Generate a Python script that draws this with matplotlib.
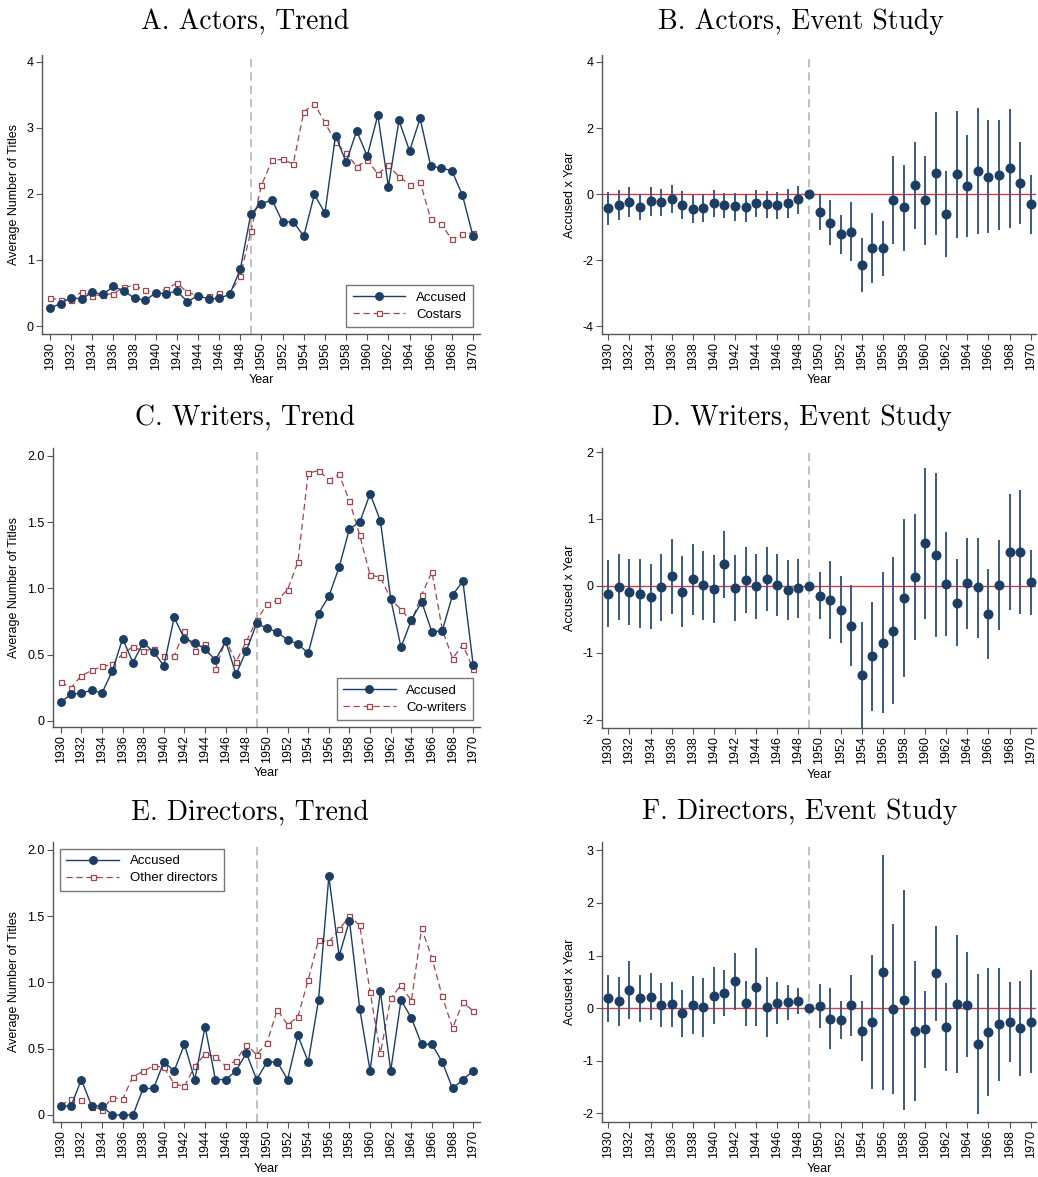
import matplotlib
matplotlib.use('Agg')
from matplotlib import pyplot as plt
import numpy as np

years = np.arange(1930, 1971)
xticks = np.arange(1930, 1971, 2)

# A. Actors, trend
actors_accused = [0.27, 0.34, 0.43, 0.41, 0.51, 0.48, 0.60, 0.53, 0.42, 0.39,
                  0.50, 0.49, 0.53, 0.37, 0.46, 0.41, 0.42, 0.48, 0.86, 1.70,
                  1.85, 1.91, 1.57, 1.58, 1.36, 1.99, 1.71, 2.88, 2.48, 2.95,
                  2.57, 3.19, 2.11, 3.11, 2.65, 3.14, 2.42, 2.39, 2.35, 1.98, 1.36]
actors_costars = [0.42, 0.40, 0.40, 0.52, 0.46, 0.47, 0.49, 0.59, 0.61, 0.54,
                  0.50, 0.56, 0.65, 0.51, 0.46, 0.45, 0.50, 0.49, 0.76, 1.44,
                  2.13, 2.51, 2.52, 2.45, 3.24, 3.36, 3.08, 2.78, 2.62, 2.41,
                  2.51, 2.30, 2.43, 2.26, 2.14, 2.18, 1.62, 1.54, 1.31, 1.39, 1.41]

# B. Actors, event study
actors_coef = [-0.43, -0.32, -0.23, -0.38, -0.21, -0.25, -0.15, -0.32, -0.45, -0.41,
               -0.26, -0.33, -0.36, -0.39, -0.27, -0.30, -0.34, -0.26, -0.16, 0.0,
               -0.53, -0.87, -1.22, -1.14, -2.15, -1.63, -1.63, -0.18, -0.40, 0.27,
               -0.19, 0.64, -0.60, 0.60, 0.25, 0.71, 0.53, 0.59, 0.79, 0.33, -0.30]
actors_hi = [0.08, 0.13, 0.22, 0.00, 0.22, 0.16, 0.27, 0.11, -0.04, 0.00,
             0.13, 0.05, 0.05, 0.02, 0.13, 0.10, 0.06, 0.16, 0.26, 0.0,
             0.00, -0.18, -0.64, -0.24, -1.34, -0.58, -0.81, 1.16, 0.89, 1.58,
             1.16, 2.50, 0.69, 2.52, 1.79, 2.61, 2.25, 2.23, 2.58, 1.57, 0.59]
actors_lo = [-0.93, -0.78, -0.68, -0.78, -0.66, -0.66, -0.58, -0.76, -0.86, -0.84,
             -0.68, -0.72, -0.81, -0.83, -0.68, -0.71, -0.76, -0.71, -0.59, 0.0,
             -1.09, -1.55, -1.80, -2.03, -2.97, -2.70, -2.47, -1.51, -1.71, -1.04,
             -1.55, -1.24, -1.89, -1.34, -1.29, -1.21, -1.18, -1.07, -1.01, -0.91, -1.21]

# C. Writers, trend
writers_accused = [0.14, 0.20, 0.21, 0.23, 0.21, 0.375, 0.62, 0.44, 0.59, 0.52,
                   0.415, 0.78, 0.62, 0.59, 0.54, 0.46, 0.60, 0.35, 0.53, 0.735,
                   0.70, 0.67, 0.61, 0.58, 0.51, 0.81, 0.94, 1.16, 1.45, 1.50,
                   1.715, 1.51, 0.92, 0.555, 0.76, 0.90, 0.67, 0.68, 0.95, 1.055, 0.42]
writers_cowriters = [0.29, 0.25, 0.34, 0.38, 0.41, 0.425, 0.505, 0.56, 0.525, 0.545,
                     0.49, 0.49, 0.68, 0.53, 0.58, 0.39, 0.61, 0.445, 0.60, 0.76,
                     0.88, 0.91, 0.99, 1.20, 1.87, 1.89, 1.82, 1.86, 1.66, 1.40,
                     1.10, 1.085, 0.92, 0.84, 0.75, 0.95, 1.125, 0.69, 0.47, 0.575, 0.39]

# D. Writers, event study
writers_coef = [-0.125, -0.015, -0.09, -0.12, -0.165, -0.02, 0.14, -0.095, 0.095, 0.005,
                -0.04, 0.32, -0.035, 0.09, -0.005, 0.105, 0.015, -0.06, -0.035, 0.0,
                -0.145, -0.21, -0.355, -0.595, -1.335, -1.05, -0.85, -0.67, -0.18, 0.13,
                0.635, 0.455, 0.02, -0.25, 0.035, -0.025, -0.425, 0.015, 0.505, 0.505, 0.05]
writers_hi = [0.38, 0.47, 0.40, 0.40, 0.32, 0.48, 0.70, 0.44, 0.62, 0.52,
              0.455, 0.82, 0.465, 0.58, 0.47, 0.58, 0.48, 0.385, 0.405, 0.0,
              0.20, 0.37, 0.14, 0.015, -0.54, -0.235, 0.20, 0.43, 1.005, 1.07,
              1.765, 1.68, 0.80, 0.405, 0.715, 0.72, 0.25, 0.69, 1.37, 1.425, 0.535]
writers_lo = [-0.62, -0.505, -0.58, -0.635, -0.645, -0.525, -0.415, -0.62, -0.44, -0.505,
              -0.55, -0.18, -0.53, -0.405, -0.49, -0.375, -0.455, -0.505, -0.485, 0.0,
              -0.50, -0.79, -0.85, -1.20, -2.13, -1.865, -1.905, -1.77, -1.37, -0.81,
              -0.49, -0.77, -0.75, -0.905, -0.64, -0.785, -1.10, -0.655, -0.36, -0.42, -0.43]

# E. Directors, trend
directors_accused = [0.067, 0.067, 0.267, 0.067, 0.067, 0.0, 0.0, 0.0, 0.2, 0.2,
                     0.4, 0.333, 0.533, 0.267, 0.667, 0.267, 0.267, 0.333, 0.467, 0.267,
                     0.4, 0.4, 0.267, 0.6, 0.4, 0.867, 1.8, 1.2, 1.467, 0.8,
                     0.333, 0.933, 0.333, 0.867, 0.733, 0.533, 0.533, 0.4, 0.2, 0.267, 0.333]
directors_other = [0.073, 0.12, 0.11, 0.063, 0.04, 0.13, 0.12, 0.29, 0.33, 0.37,
                   0.36, 0.235, 0.215, 0.37, 0.46, 0.44, 0.37, 0.41, 0.53, 0.455,
                   0.545, 0.795, 0.68, 0.74, 1.02, 1.32, 1.305, 1.40, 1.50, 1.43,
                   0.93, 0.465, 0.88, 0.98, 0.86, 1.41, 1.185, 0.895, 0.655, 0.85, 0.785]

# F. Directors, event study
directors_coef = [0.19, 0.14, 0.345, 0.195, 0.22, 0.06, 0.075, -0.10, 0.06, 0.015,
                  0.23, 0.295, 0.51, 0.09, 0.395, 0.015, 0.09, 0.115, 0.135, 0.0,
                  0.045, -0.20, -0.22, 0.055, -0.43, -0.26, 0.69, -0.01, 0.155, -0.435,
                  -0.40, 0.67, -0.35, 0.08, 0.065, -0.69, -0.46, -0.30, -0.26, -0.385, -0.26]
directors_hi = [0.63, 0.60, 0.90, 0.64, 0.675, 0.485, 0.50, 0.345, 0.61, 0.58,
                0.775, 0.725, 1.055, 0.52, 1.14, 0.59, 0.50, 0.445, 0.38, 0.0,
                0.465, 0.38, 0.14, 0.63, 0.14, 1.01, 2.92, 1.61, 2.25, 0.89,
                0.33, 1.56, 0.48, 1.39, 1.06, 0.655, 0.77, 0.77, 0.50, 0.52, 0.72]
directors_lo = [-0.26, -0.33, -0.20, -0.26, -0.225, -0.365, -0.36, -0.54, -0.49, -0.55,
                -0.31, -0.145, -0.03, -0.34, -0.345, -0.55, -0.31, -0.22, -0.12, 0.0,
                -0.37, -0.78, -0.585, -0.52, -1.00, -1.54, -1.55, -1.63, -1.935, -1.76,
                -1.14, -0.24, -1.19, -1.23, -0.93, -2.02, -1.68, -1.38, -1.03, -1.29, -1.23]

navy = '#1c3d64'
maroon = '#a0454c'
ci_col = '#3b5a80'
axis_col = '#555555'

plt.rcParams['font.family'] = ['Liberation Sans', 'DejaVu Sans']
plt.rcParams['font.size'] = 9

W, H = 1038.0, 1177.0
fig = plt.figure(figsize=(W / 100, H / 100), dpi=100, facecolor='white')

def fpos(l, r, t, b):
    return [l / W, 1 - b / H, (r - l) / W, (b - t) / H]

def add_title(text, xc, yc):
    fig.text(xc / W, 1 - yc / H, text, fontfamily='cmr10', fontsize=20,
             ha='center', va='center')

def style(ax, ylab):
    for s in ['top', 'right']:
        ax.spines[s].set_visible(False)
    for s in ['left', 'bottom']:
        ax.spines[s].set_color(axis_col)
        ax.spines[s].set_linewidth(1.0)
    ax.tick_params(axis='both', colors='black', labelsize=9, length=4,
                   direction='out', width=0.8, pad=2)
    ax.tick_params(axis='both', color=axis_col)
    ax.set_xticks(xticks)
    ax.set_xticklabels([str(y) for y in xticks], rotation=90)
    ax.set_xlim(1929.4, 1970.5)
    ax.set_xlabel('Year', fontsize=9, labelpad=3)
    ax.set_ylabel(ylab, fontsize=9, labelpad=5)
    ax.axvline(1949, color='#b5b5b5', linestyle=(0, (5, 3)), linewidth=1.2, zorder=1)

def trend(pos, title, tpos, acc, ctrl, ctrl_name, ylim, yticks, yticklabels, loc):
    ax = fig.add_axes(pos)
    style(ax, 'Average Number of Titles')
    ax.plot(years, acc, color=navy, linewidth=1.0, marker='o', markersize=5.4,
            markerfacecolor=navy, markeredgecolor=navy, label='Accused', zorder=3)
    ax.plot(years, ctrl, color=maroon, linewidth=0.9, linestyle=(0, (5, 3)),
            marker='s', markersize=3.6, markerfacecolor='white',
            markeredgecolor=maroon, markeredgewidth=0.9, label=ctrl_name, zorder=2)
    ax.set_ylim(*ylim)
    ax.set_yticks(yticks)
    ax.set_yticklabels(yticklabels)
    ax.set_xlim(1929.25, 1970.66)
    leg = ax.legend(loc=loc, fontsize=9.5, frameon=True, fancybox=False,
                    edgecolor='#555555', handlelength=4.0, borderpad=0.5,
                    labelspacing=0.35, handletextpad=0.8, borderaxespad=0.5)
    leg.get_frame().set_linewidth(1.0)
    add_title(title, *tpos)
    return ax

def event(pos, title, tpos, coef, lo, hi, ylim, yticks):
    ax = fig.add_axes(pos)
    style(ax, 'Accused x Year')
    ax.axhline(0, color='#d43c4c', linewidth=1.0, zorder=1)
    ax.vlines(years, lo, hi, color=ci_col, linewidth=1.4, zorder=2)
    ax.plot(years, coef, linestyle='', marker='o', markersize=6.2,
            markerfacecolor=navy, markeredgecolor=navy, zorder=3)
    ax.set_ylim(*ylim)
    ax.set_yticks(yticks)
    ax.set_yticklabels([str(t) for t in yticks])
    add_title(title, *tpos)
    return ax

trend(fpos(42, 480, 55, 334), 'A. Actors, Trend', (245, 22), actors_accused,
      actors_costars, 'Costars', (-0.12, 4.1), [0, 1, 2, 3, 4],
      ['0', '1', '2', '3', '4'], 'lower right')
event(fpos(602, 1036, 55, 334), 'B. Actors, Event Study', (801, 22), actors_coef,
      actors_lo, actors_hi, (-4.23, 4.21), [-4, -2, 0, 2, 4])

trend(fpos(53, 480, 448, 727), 'C. Writers, Trend', (245, 418), writers_accused,
      writers_cowriters, 'Co-writers', (-0.047, 2.06), [0, 0.5, 1.0, 1.5, 2.0],
      ['0', '0.5', '1.0', '1.5', '2.0'], 'lower right')
event(fpos(602, 1036, 448, 728), 'D. Writers, Event Study', (802, 418), writers_coef,
      writers_lo, writers_hi, (-2.125, 2.06), [-2, -1, 0, 1, 2])

trend(fpos(53, 480, 842, 1122), 'E. Directors, Trend', (250, 812), directors_accused,
      directors_other, 'Other directors', (-0.053, 2.06), [0, 0.5, 1.0, 1.5, 2.0],
      ['0', '0.5', '1.0', '1.5', '2.0'], 'upper left')
event(fpos(602, 1036, 842, 1122), 'F. Directors, Event Study', (800, 812),
      directors_coef, directors_lo, directors_hi, (-2.165, 3.16), [-2, -1, 0, 1, 2, 3])

fig.savefig('out.png', dpi=100, facecolor='white')
